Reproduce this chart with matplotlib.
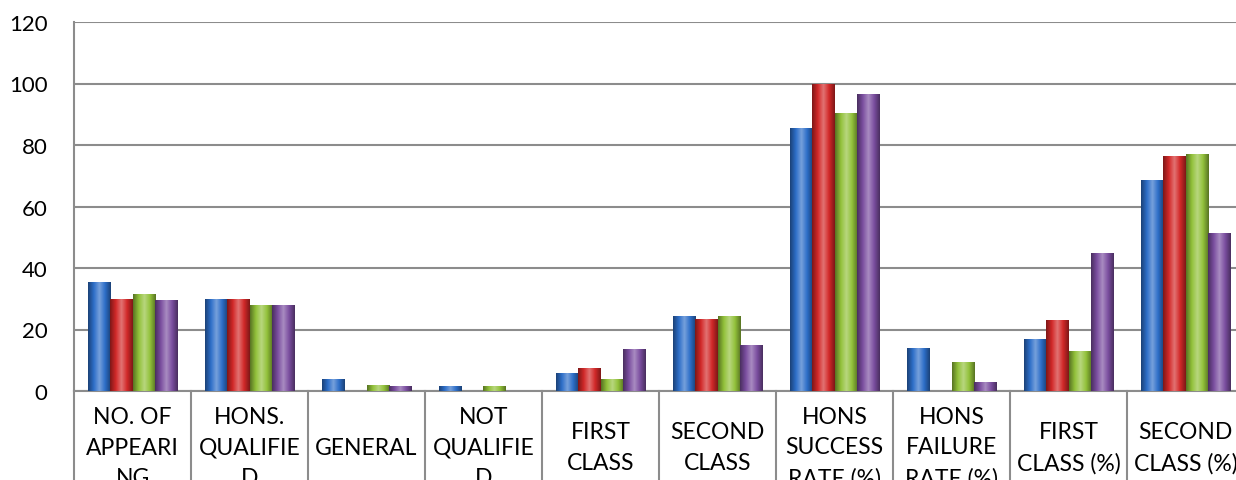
import numpy as np
import matplotlib
matplotlib.use('Agg')
import matplotlib.pyplot as plt
from matplotlib.colors import LinearSegmentedColormap, to_rgb

# categorias y series
categories = ["NO. OF\nAPPEARI\nNG", "HONS.\nQUALIFIE\nD", "GENERAL", "NOT\nQUALIFIE\nD",
              "FIRST\nCLASS", "SECOND\nCLASS", "HONS\nSUCCESS\nRATE (%)",
              "HONS\nFAILURE\nRATE (%)", "FIRST\nCLASS (%)", "SECOND\nCLASS (%)"]
serie1 = [35.5, 30, 4, 1.5, 6, 24.5, 85.5, 14, 17, 68.5]
serie2 = [30, 30, 0, 0, 7.5, 23.5, 100, 0, 23, 76.5]
serie3 = [31.5, 28, 2, 1.5, 4, 24.5, 90.5, 9.5, 13, 77]
serie4 = [29.5, 28, 1.5, 0, 13.5, 15, 96.5, 3, 45, 51.5]
colores = ['#2d6ec8', '#d22828', '#92c13a', '#7b4ea0']

plt.rcParams['font.family'] = ['Lato', 'DejaVu Sans']

fig = plt.figure(figsize=(12.36, 4.81), dpi=100)
ax = fig.add_axes([74/1236, 89/481, 1170/1236, 369/481])

x = np.arange(len(categories))
w = 0.19
grid_c = '#8c8c8c'

for i, (vals, c) in enumerate(zip([serie1, serie2, serie3, serie4], colores)):
    base = np.array(to_rgb(c))
    dark = base * 0.6
    light = base + (1 - base) * 0.35
    cmap = LinearSegmentedColormap.from_list('g', [dark, base, light, base, dark])
    bars = ax.bar(x - 1.5*w + i*w, vals, width=w, color=c, zorder=3)
    for b in bars:
        if b.get_height() <= 0:
            continue
        bx, by = b.get_x(), b.get_y()
        im = ax.imshow(np.linspace(0, 1, 64).reshape(1, -1), cmap=cmap, aspect='auto',
                       extent=[bx, bx + b.get_width(), by, by + b.get_height()], zorder=4)
        im.set_clip_path(b)

ax.set_xlim(-0.5, len(categories) - 0.5)
ax.set_ylim(0, 120)
ax.set_yticks(range(0, 121, 20))
ax.tick_params(axis='y', length=0, pad=19, labelsize=16)
ax.set_xticks([])
ax.yaxis.grid(True, color=grid_c, linewidth=1.5, zorder=0)
ax.set_axisbelow(True)
for s in ['top', 'right']:
    ax.spines[s].set_visible(False)
ax.spines['left'].set_color(grid_c)
ax.spines['left'].set_linewidth(1.5)
ax.spines['bottom'].set_color(grid_c)
ax.spines['bottom'].set_linewidth(1.5)

# tabla de etiquetas debajo
trans = ax.get_xaxis_transform()
for k in range(len(categories) + 1):
    ax.plot([k - 0.5, k - 0.5], [0, -0.35], transform=trans, color=grid_c,
            linewidth=1.5, clip_on=False)
for k, lab in enumerate(categories):
    ax.text(k, -0.152, lab, transform=trans, ha='center', va='center',
            fontsize=16.5, linespacing=1.55, clip_on=False)

fig.savefig('out.png', dpi=100)
